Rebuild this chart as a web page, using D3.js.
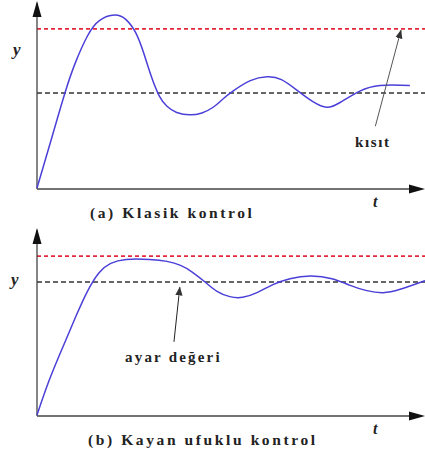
<!DOCTYPE html>
<html>
<head>
<meta charset="utf-8">
<script src="https://cdn.jsdelivr.net/npm/d3@7"></script>
<style>
  body { margin: 0; background: #fff; }
  svg { display: block; }
  text { font-family: "Liberation Serif", "DejaVu Serif", serif; fill: #222; }
</style>
</head>
<body>
<svg id="chart" width="425" height="456"></svg>
<script>
// panel (a) - classic control response
var tA = [0, 0.36, 0.72, 1.0, 1.3, 1.6, 2.0, 2.3, 2.55, 2.75, 2.95, 3.15, 3.35, 3.6, 3.94, 4.25, 4.54, 4.8, 5.05, 5.5, 5.93, 6.3, 6.73, 7.11, 7.47, 7.81, 8.32, 8.84, 9.61];
var yA = [0, 0.5, 1.0, 1.33, 1.6, 1.76, 1.82, 1.77, 1.63, 1.42, 1.17, 0.97, 0.86, 0.795, 0.77, 0.79, 0.85, 0.94, 1.02, 1.13, 1.17, 1.14, 1.02, 0.91, 0.85, 0.9, 1.02, 1.08, 1.08];
// panel (b) - receding horizon control response
var tB = [0, 0.3, 0.65, 1.0, 1.3, 1.6, 1.9, 2.3, 2.9, 3.35, 3.7, 4.0, 4.33, 4.64, 4.97, 5.3, 5.67, 6.08, 6.52, 7.05, 7.6, 8.07, 8.5, 8.92, 9.36, 10];
var yB = [0, 0.25, 0.5, 0.74, 0.93, 1.07, 1.14, 1.17, 1.17, 1.155, 1.125, 1.075, 1.0, 0.93, 0.89, 0.885, 0.92, 0.98, 1.025, 1.045, 1.025, 0.975, 0.935, 0.92, 0.945, 1.01];

var setpoint = 1;
var limits = [1.674, 1.195];
var captions = ["(a) Klasik kontrol", "(b) Kayan ufuklu kontrol"];
var notes = ["kısıt", "ayar değeri"];

var svg = d3.select("#chart");

var defs = svg.append("defs");
defs.append("marker").attr("id", "head")
  .attr("viewBox", "0 0 10 10").attr("refX", 9).attr("refY", 5)
  .attr("markerWidth", 9).attr("markerHeight", 9).attr("markerUnits", "userSpaceOnUse")
  .attr("orient", "auto")
  .append("path").attr("d", "M0,1 L10,5 L0,9 Z").attr("fill", "#333");

var x = d3.scaleLinear().domain([0, 10]).range([37, 425]);

function drawPanel(cfg) {
  var y = d3.scaleLinear().domain([0, 1]).range([cfg.base, cfg.setY]);
  var g = svg.append("g");
  var data = cfg.t.map(function(d, i) { return {t: d, v: cfg.y[i]}; });

  // dashed reference lines
  g.append("line")
    .attr("x1", x(0)).attr("x2", x(10))
    .attr("y1", y(cfg.limit)).attr("y2", y(cfg.limit))
    .attr("stroke", "#e3283a").attr("stroke-width", 1.8)
    .attr("stroke-dasharray", "4,3");
  g.append("line")
    .attr("x1", x(0)).attr("x2", x(10))
    .attr("y1", y(setpoint)).attr("y2", y(setpoint))
    .attr("stroke", "#333").attr("stroke-width", 1.4)
    .attr("stroke-dasharray", "5,3");

  // axes
  g.append("line")
    .attr("x1", x(0)).attr("x2", x(0))
    .attr("y1", cfg.base + 1).attr("y2", cfg.base - 185)
    .attr("stroke", "#444").attr("stroke-width", 1.3);
  g.append("path")
    .attr("d", "M" + x(0) + "," + (cfg.base - 187) + " l-4.5,16 l9,0 Z")
    .attr("fill", "#111");
  g.append("line")
    .attr("x1", x(0)).attr("x2", 415)
    .attr("y1", cfg.base + 1).attr("y2", cfg.base + 1)
    .attr("stroke", "#444").attr("stroke-width", 1.3);
  g.append("path")
    .attr("d", "M425," + (cfg.base + 1) + " l-16,-4.5 l0,9 Z")
    .attr("fill", "#111");

  // response curve
  var line = d3.line()
    .x(function(d) { return x(d.t); })
    .y(function(d) { return y(d.v); })
    .curve(d3.curveNatural);
  g.append("path").datum(data)
    .attr("d", line)
    .attr("fill", "none")
    .attr("stroke", "#4b3fd8")
    .attr("stroke-width", 1.5);

  // annotation arrow
  g.append("line")
    .attr("x1", x(cfg.arrow[0])).attr("y1", y(cfg.arrow[1]))
    .attr("x2", x(cfg.arrow[2])).attr("y2", y(cfg.arrow[3]))
    .attr("stroke", cfg.arrowColor).attr("stroke-width", 1)
    .attr("marker-end", "url(#head)");
  g.append("text")
    .attr("x", cfg.noteX).attr("y", cfg.noteY)
    .attr("font-size", 15).attr("font-weight", "bold")
    .attr("letter-spacing", cfg.noteSp)
    .text(cfg.note);

  // labels
  g.append("text")
    .attr("x", cfg.yLabX).attr("y", y(setpoint) + cfg.yLabDy)
    .attr("font-size", 17).attr("font-style", "italic").attr("font-weight", "bold")
    .text("y");
  g.append("text")
    .attr("x", 373).attr("y", cfg.base + 19)
    .attr("font-size", 16).attr("font-style", "italic").attr("font-weight", "bold")
    .text("t");
  g.append("text")
    .attr("x", cfg.capX).attr("y", cfg.base + 30)
    .attr("font-size", 15.5).attr("letter-spacing", 2.6)
    .attr("font-weight", "bold").attr("fill", "#333")
    .text(cfg.caption);
}

drawPanel({t: tA, y: yA, base: 188, setY: 93, limit: limits[0],
  arrow: [8.72, 0.65, 9.38, 1.66], arrowColor: "#555",
  note: notes[0], noteX: 355, noteY: 147, noteSp: 1.6,
  yLabX: 13, yLabDy: -38, capX: 90, caption: captions[0]});

drawPanel({t: tB, y: yB, base: 415, setY: 282, limit: limits[1],
  arrow: [3.53, 0.55, 3.68, 0.96], arrowColor: "#222",
  note: notes[1], noteX: 125, noteY: 362, noteSp: 2.2,
  yLabX: 11, yLabDy: 3, capX: 88, caption: captions[1]});
</script>
</body>
</html>
